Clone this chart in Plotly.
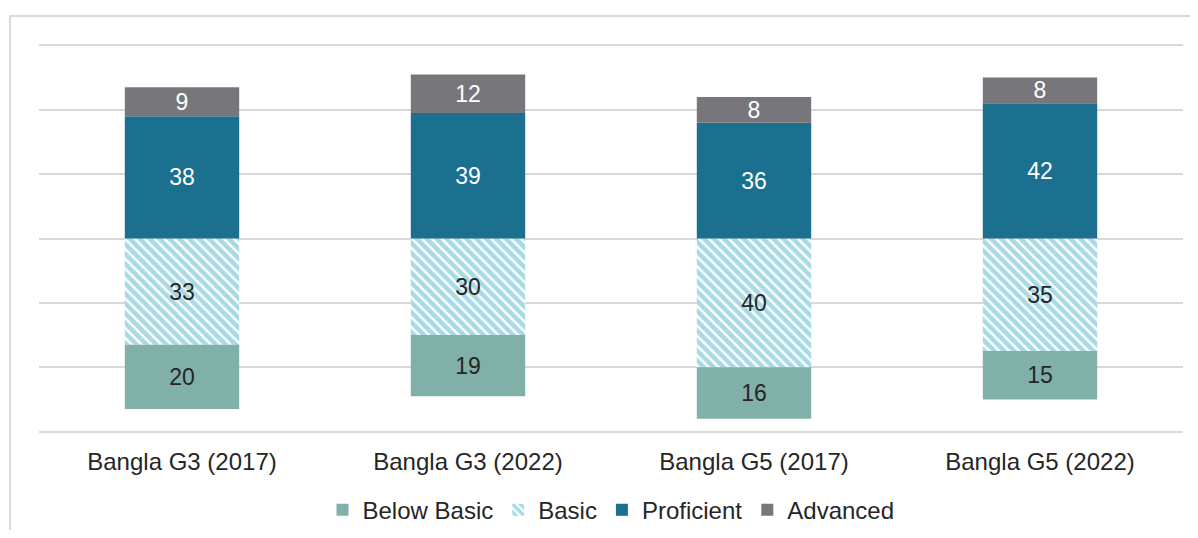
import plotly.graph_objects as go

categories = ["Bangla G3 (2017)", "Bangla G3 (2022)", "Bangla G5 (2017)", "Bangla G5 (2022)"]
below_basic = [20, 19, 16, 15]
basic = [33, 30, 40, 35]
proficient = [38, 39, 36, 42]
advanced = [9, 12, 8, 8]

FONT = "Liberation Sans, Arial, sans-serif"
DARK = "#262626"

fig = go.Figure()

def add(name, vals, sign, color, txtcolor, rank, pattern=False):
    marker = dict(color=color, line=dict(width=0))
    if pattern:
        marker = dict(color="white", line=dict(width=0),
                      pattern=dict(shape="\\", fgcolor=color, bgcolor="white",
                                   size=7, solidity=0.65, fillmode="overlay"))
    fig.add_trace(go.Bar(
        x=categories, y=[sign * v for v in vals], name=name,
        text=[str(v) for v in vals], textposition="inside",
        insidetextanchor="middle", textangle=0, constraintext="none",
        insidetextfont=dict(family=FONT, size=23, color=txtcolor),
        marker=marker, legendrank=rank, hoverinfo="skip",
    ))

add("Basic", basic, -1, "#4fb6cc", DARK, 2, pattern=True)
add("Below Basic", below_basic, -1, "#80b0a8", DARK, 1)
add("Proficient", proficient, 1, "#1b7090", "white", 3)
add("Advanced", advanced, 1, "#77777b", "white", 4)

fig.update_layout(
    barmode="relative",
    bargap=0.6,
    width=1182, height=522,
    margin=dict(l=31, r=7, t=31, b=92, autoexpand=False),
    paper_bgcolor="white", plot_bgcolor="white",
    font=dict(family=FONT, color=DARK, size=23),
    xaxis=dict(showgrid=False, showline=False, ticks="",
               tickfont=dict(family=FONT, size=24, color=DARK), ticklabelstandoff=7),
    yaxis=dict(range=[-62, 62], tickvals=[-60, -40, -20, 0, 20, 40, 60],
               showticklabels=False, gridcolor="#d9d9d9", gridwidth=1.5,
               zeroline=False, showline=False),
    legend=dict(orientation="h", x=0.5, xanchor="center", y=-0.181, yanchor="middle",
                font=dict(family=FONT, size=24, color=DARK), traceorder="normal",
                itemwidth=30, tracegroupgap=0),
    shapes=[dict(type="rect", xref="paper", yref="paper",
                 x0=-29/1144, x1=1.2, y0=-1.0, y1=1 + 23/399,
                 line=dict(color="#d9d9d9", width=2), fillcolor="rgba(0,0,0,0)", layer="below")],
)

fig.write_html("out.html")
